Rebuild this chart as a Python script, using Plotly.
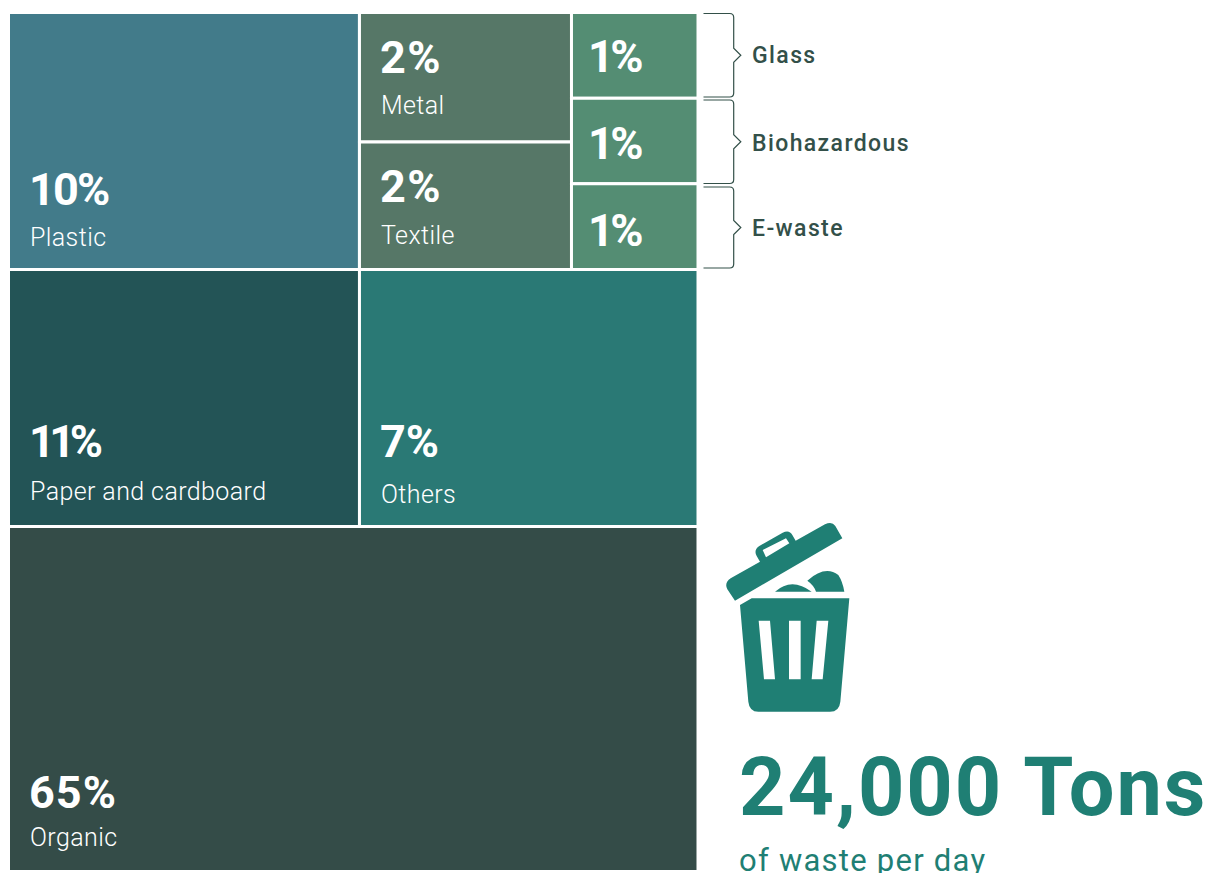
import plotly.graph_objects as go

W, H = 1208, 873

# Waste streams, their share of the daily total, and the size of each tile
categories = ["Organic", "Plastic", "Paper and cardboard", "Others", "Metal", "Textile",
              "Glass", "Biohazardous", "E-waste"]
share_pct = [65, 10, 11, 7, 2, 2, 1, 1, 1]
tile_size = [40.16, 15.23, 15.23, 14.69, 4.64, 4.56, 1.83, 1.83, 1.83]
tile_colors = ["#344C48", "#427B8A", "#235456", "#2A7975", "#567767", "#567767",
               "#548D73", "#548D73", "#548D73"]

# Grouping of the tiles: every branch alternates rows and columns
branches = ["All", "Upper", "Left column", "Right column", "Small streams", "Metal and textile", "One percent"]
branch_parents = ["", "All", "Upper", "Upper", "Right column", "Small streams", "Small streams"]
tile_parents = {
    "Plastic": "Left column", "Paper and cardboard": "Left column",
    "Others": "Right column", "Metal": "Metal and textile", "Textile": "Metal and textile",
    "Glass": "One percent", "Biohazardous": "One percent", "E-waste": "One percent",
    "Organic": "All",
}

headline = "24,000 Tons"
subheadline = "of waste per day"

INK = "#335049"
TEAL = "#1F7F74"


def px(x, y):
    """Convert page pixels to paper coordinates."""
    return x / W, 1 - y / H


def path(cmds):
    out = []
    for cmd in cmds:
        if cmd == "Z":
            out.append("Z")
        else:
            pts = " ".join("{:.5f},{:.5f}".format(*px(*p)) for p in cmd[1:])
            out.append(f"{cmd[0]} {pts}")
    return " ".join(out)


def brace(top, bottom, left=703.5, spine=733.7, tip=740.8, r=4):
    mid = (top + bottom) / 2
    return path([
        ("M", (left, top)), ("L", (spine - r, top)), ("Q", (spine, top), (spine, top + r)),
        ("L", (spine, mid - 7)), ("L", (tip, mid)), ("L", (spine, mid + 7)),
        ("L", (spine, bottom - r)), ("Q", (spine, bottom), (spine - r, bottom)), ("L", (left, bottom)),
    ])


def icon(zx, zy):
    return 710 + zx / 3, 510 + zy / 3


def poly(points):
    return [("M", icon(*points[0]))] + [("L", icon(*p)) for p in points[1:]] + ["Z"]


def curve(start, *segments):
    cmds = [("M", icon(*start))]
    for seg in segments:
        if len(seg) == 1:
            cmds.append(("L", icon(*seg[0])))
        else:
            cmds.append(("Q", icon(*seg[0]), icon(*seg[1])))
    return cmds + ["Z"]


# Rubbish bin pictogram
bin_body = curve((90, 285), [(125, 265)], [(418, 265)], [(391, 575)], [(388, 605), (360, 605)],
                 [(145, 605)], [(118, 605), (115, 575)])
slots = (poly([(146, 332), (180, 332), (195, 508), (162, 508)])
         + poly([(237, 332), (272, 332), (272, 508), (237, 508)])
         + poly([(320, 332), (355, 332), (338, 508), (305, 508)]))
lid = curve((75, 272), [(397, 85)], [(376, 48)], [(366, 33), (345, 43)], [(257, 92)], [(247, 75)],
            [(238, 58), (218, 68)], [(148, 108)], [(130, 120), (140, 138)], [(150, 155)],
            [(62, 205)], [(42, 218), (52, 238)])
lid_hole = poly([(158, 120), (228, 85), (238, 100), (168, 142)])
scraps = (curve((195, 245), [(245, 200), (305, 245)])
          + curve((292, 212), [(345, 165), (385, 195)], [(398, 215), (403, 245)], [(318, 245)], [(312, 226), (292, 212)]))

shapes = [
    dict(type="path", xref="paper", yref="paper", path=brace(t, b),
         line=dict(color=INK, width=1.2), fillcolor="rgba(0,0,0,0)")
    for t, b in [(13.5, 97), (100, 183.5), (187, 268)]
]
shapes.append(dict(type="path", xref="paper", yref="paper", line=dict(width=0), fillcolor=TEAL,
                   path=path(bin_body + slots + lid + lid_hole + scraps)))

labels = branches + categories
parents = branch_parents + [tile_parents[c] for c in categories]
values = [0] * len(branches) + tile_size
colors = ["#FFFFFF"] * len(branches) + tile_colors
shares = [""] * len(branches) + [f"{p}%" for p in share_pct]

fig = go.Figure(go.Treemap(
    labels=labels,
    parents=parents,
    values=values,
    branchvalues="remainder",
    sort=False,
    textinfo="none",
    customdata=shares,
    hovertemplate="%{label}: %{customdata}<extra></extra>",
    marker=dict(colors=colors, line=dict(color="#FFFFFF", width=3),
                pad=dict(t=0, l=0, r=0, b=0), depthfade=False),
    pathbar=dict(visible=False),
    tiling=dict(packing="dice-slice", pad=0),
    domain=dict(x=[8.5 / W, 698 / W], y=[1 - 871.5 / H, 1 - 12.5 / H]),
))


def note(text, x, y, size, color="#FFFFFF", weight=400, spacing=0.0):
    xp, yp = px(x, y)
    styled = f'<span style="letter-spacing:{spacing}px">{text}</span>'
    return dict(text=styled, x=xp, y=yp, xref="paper", yref="paper", xanchor="left", yanchor="middle",
                showarrow=False, borderpad=0, font=dict(family="Roboto", size=size, color=color, weight=weight))


share_of = dict(zip(categories, share_pct))
# Tracking for the percentages, which depends on the digits in them
pct_tracking = {65: 1.0, 11: -5.5, 10: -1.8, 7: 0.0, 2: 1.5, 1: -3.5}
# Text placement per tile: left edge, centre of the percentage, centre of the name
tile_text = [
    ("Plastic", 28, 189, 238), ("Paper and cardboard", 28, 441, 491), ("Others", 379, 441, 494),
    ("Organic", 28, 792, 837), ("Metal", 379, 58, 105), ("Textile", 379, 186, 236),
    ("Glass", 587, 57, None), ("Biohazardous", 587, 144, None), ("E-waste", 587, 231, None),
]
annotations = []
for name, x, y_pct, y_name in tile_text:
    pct = share_of[name]
    annotations.append(note(f"{pct}%", x, y_pct, 45, weight=700, spacing=pct_tracking[pct]))
    if y_name is not None:
        annotations.append(note(name, x + 1, y_name, 25, weight=300, spacing=0.4))
for name, y in [("Glass", 56), ("Biohazardous", 143.5), ("E-waste", 229)]:
    annotations.append(note(name, 751, y, 23, color=INK, weight=500, spacing=1.4))
annotations.append(note(headline, 738, 787, 81, color=TEAL, weight=700, spacing=2.0))
annotations.append(note(subheadline, 738, 860, 31, color=TEAL, weight=400, spacing=1.25))

fig.update_layout(width=W, height=H, margin=dict(l=0, r=0, t=0, b=0), paper_bgcolor="#FFFFFF",
                  shapes=shapes, annotations=annotations, showlegend=False)
fig.write_html("out.html")
